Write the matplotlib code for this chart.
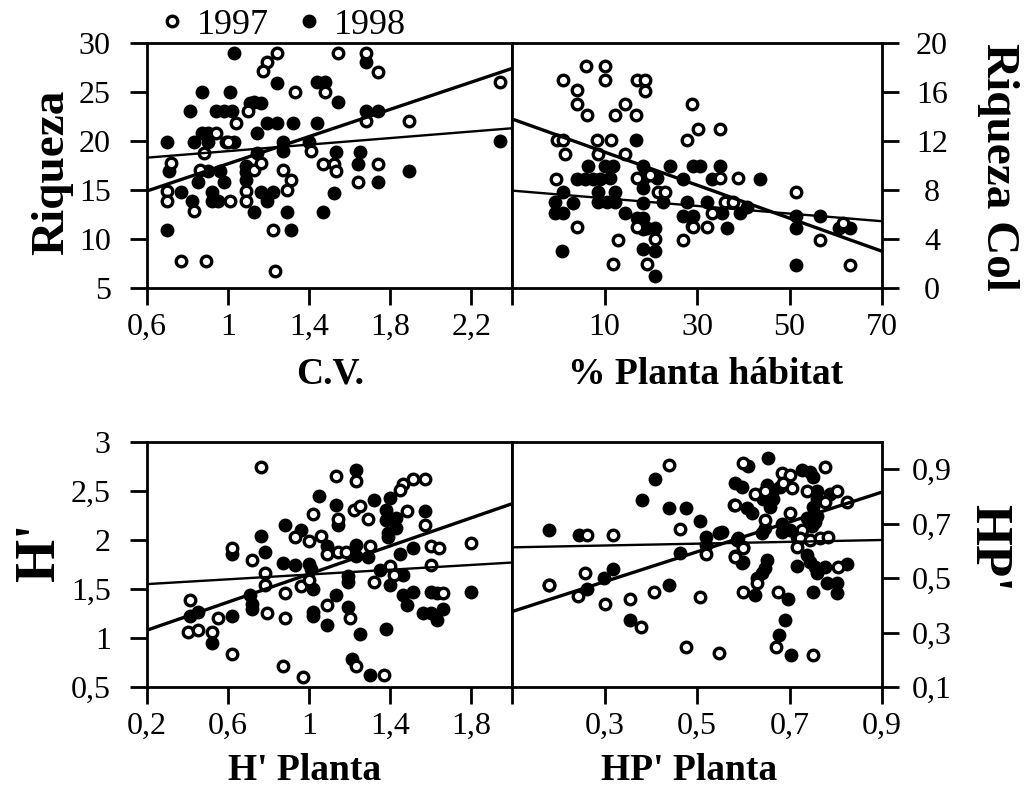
import numpy as np
import matplotlib
matplotlib.use("Agg")
import matplotlib.pyplot as plt
from matplotlib.lines import Line2D

plt.rcParams['font.family'] = ['Liberation Serif', 'DejaVu Serif']

# ---- panel A: Riqueza vs C.V. ----
cv_97 = [1.24, 1.19, 1.17, 1.54, 1.68, 1.74, 1.33, 1.48, 1.04, 1.10, 1.68, 1.89, 2.34,
         0.94, 0.88, 1.00, 1.41, 1.47, 1.52, 1.53, 1.74, 1.64, 0.72, 0.70, 0.70, 0.83,
         0.86, 1.01, 1.13, 1.16, 1.09, 1.09, 1.27, 1.31, 1.29, 1.22, 0.77, 0.89, 1.23]
riq_97 = [29.0, 28.1, 27.1, 29.0, 29.0, 27.0, 25.0, 25.0, 21.8, 23.1, 22.0, 22.0, 26.0,
          20.8, 18.8, 19.9, 19.0, 17.7, 17.7, 16.9, 17.7, 15.8, 17.8, 14.9, 13.9, 12.9,
          17.0, 13.9, 17.0, 17.8, 14.9, 13.9, 17.0, 16.0, 15.0, 10.9, 7.8, 7.8, 6.7]
cv_98 = [1.03, 1.68, 1.24, 1.44, 1.48, 1.54, 0.87, 1.01, 0.81, 0.94, 0.98, 1.02, 1.11,
         1.16, 1.13, 1.19, 1.24, 1.32, 1.44, 1.68, 1.74, 2.34, 0.70, 0.83, 0.87, 0.90,
         0.90, 0.99, 1.03, 1.14, 1.14, 1.27, 1.27, 1.40, 1.53, 1.65, 1.64, 1.74, 1.89,
         0.71, 0.77, 0.82, 0.85, 0.90, 0.96, 0.98, 0.92, 0.95, 0.92, 1.09, 1.09, 1.09,
         1.16, 1.19, 1.22, 1.13, 1.29, 1.31, 1.52, 1.47, 0.70]
riq_98 = [29.0, 28.1, 25.9, 26.0, 26.0, 24.0, 25.0, 25.0, 23.1, 23.1, 23.1, 23.1, 23.9,
          23.9, 24.0, 21.8, 21.8, 21.8, 21.8, 23.1, 23.1, 20.0, 19.9, 19.9, 20.8, 20.8,
          19.9, 19.9, 19.9, 20.8, 18.8, 19.9, 19.0, 19.9, 18.9, 18.9, 17.7, 15.8, 16.9,
          16.9, 14.8, 13.9, 15.8, 16.9, 16.9, 15.8, 14.8, 13.9, 13.9, 17.5, 16.8, 16.0,
          14.8, 13.9, 14.8, 12.8, 12.8, 10.9, 14.7, 12.8, 10.9]
cv_fit_x = [0.6, 2.4]
cv_fit_a = [14.9, 27.4]
cv_fit_b = [18.3, 21.3]

# ---- panel B: Riqueza Col vs % Planta habitat ----
ph_97 = [6.0, 10.1, 10.1, 1.1, 4.1, 4.1, 6.3, 12.3, 14.4, 16.8, 17.1, 18.8, 18.8, 29.0,
         30.3, 35.0, 27.8, -0.3, 1.1, 1.5, 8.3, 11.3, 8.6, 14.4, -0.5, 17.0, 19.8, 21.6,
         23.1, 35.0, 38.9, 36.0, 37.8, 4.0, 17.0, 20.9, 12.9, 11.8, 19.2, 27.0, 29.1,
         32.2, 33.2, 51.5, 56.5, 61.6, 63.1]
col_97 = [18.1, 18.1, 17.0, 17.0, 16.2, 15.0, 14.1, 14.1, 15.0, 14.1, 17.0, 17.0, 16.1, 15.0,
          13.0, 13.0, 12.1, 12.1, 12.1, 10.9, 12.1, 12.1, 10.9, 10.9, 8.9, 9.0, 9.2, 7.8,
          7.8, 9.0, 9.0, 7.0, 7.0, 5.0, 5.0, 4.0, 3.9, 2.0, 2.0, 3.9, 5.0,
          5.0, 6.1, 7.8, 3.9, 5.3, 1.9]
ph_98 = [16.8, 6.4, 10.1, 11.8, 4.0, 5.8, 7.5, 9.0, 11.2, 18.3, 18.3, 18.3, 18.3, 18.3,
         18.3, 24.2, 29.1, 30.6, 35.0, 27.0, 33.2, 1.0, -0.7, -0.7, 1.0, 3.2, 8.6, 8.6,
         12.3, 12.3, 10.5, 14.4, 17.0, 19.2, 20.9, 22.6, 27.8, 32.2, 27.0, 29.1, 29.0,
         35.4, 36.5, 39.3, 40.8, 0.8, 18.3, 20.9, 20.9, 43.6, 51.5, 51.5, 56.5, 60.6,
         63.1, 51.5, 21.3]
col_98 = [12.1, 10.0, 10.0, 10.0, 8.9, 8.9, 8.9, 8.9, 9.0, 10.0, 8.9, 8.2, 6.9, 5.7,
          4.8, 10.0, 10.0, 10.0, 10.0, 8.9, 8.9, 7.8, 7.0, 6.1, 6.1, 6.9, 7.8, 7.0,
          7.8, 7.0, 7.0, 6.1, 5.7, 4.9, 4.9, 7.0, 7.0, 7.0, 5.9, 5.9, 5.1,
          6.1, 4.9, 6.1, 6.6, 3.0, 3.2, 3.0, 1.0, 8.9, 5.9, 4.9, 5.9, 4.9,
          4.9, 1.9, 9.0]
ph_fit_x = [-10, 70]
ph_fit_a = [13.8, 3.0]
ph_fit_b = [7.95, 5.45]

# ---- panel C: H' vs H' Planta ----
hpl_97 = [0.76, 1.13, 1.23, 1.51, 1.57, 1.46, 1.45, 1.22, 1.25, 1.29, 1.48, 1.57, 1.02,
          1.14, 0.93, 1.00, 1.06, 0.62, 0.72, 0.78, 1.09, 1.14, 1.18, 1.30, 1.60, 1.64,
          1.80, 1.60, 1.40, 1.42, 1.32, 0.96, 1.00, 0.88, 0.78, 1.09, 1.66, 0.41, 0.40,
          0.45, 0.52, 0.55, 0.62, 0.79, 0.88, 1.20, 0.87, 0.97, 1.23, 1.37]
hsh_97 = [2.75, 2.65, 2.60, 2.62, 2.62, 2.57, 2.51, 2.31, 2.35, 2.21, 2.30, 2.15, 2.27,
          2.21, 2.03, 1.99, 2.04, 1.92, 1.80, 1.66, 1.86, 1.88, 1.88, 1.94, 1.94, 1.92,
          1.97, 1.74, 1.73, 1.64, 1.57, 1.53, 1.59, 1.46, 1.54, 1.34, 1.46, 1.39, 1.06,
          1.08, 1.06, 1.20, 0.84, 1.26, 1.20, 1.20, 0.71, 0.60, 0.71, 0.62]
hpl_98 = [1.23, 1.40, 1.05, 1.13, 1.32, 1.38, 1.38, 1.43, 1.43, 1.57, 1.39, 1.39, 1.14,
          0.88, 0.96, 0.76, 0.62, 0.78, 0.87, 0.93, 1.00, 1.01, 1.09, 1.19, 1.19, 1.23,
          1.23, 1.29, 1.45, 1.51, 1.35, 1.46, 1.40, 1.02, 0.71, 0.72, 0.72, 1.13, 1.46,
          1.48, 1.51, 1.60, 1.63, 1.66, 1.56, 1.60, 1.63, 1.80, 0.41, 0.45, 0.52, 0.62,
          1.02, 1.02, 1.09, 1.19, 1.25, 1.38, 1.21, 1.30]
hsh_98 = [2.71, 2.43, 2.45, 2.36, 2.41, 2.31, 2.20, 2.22, 2.12, 2.30, 2.07, 2.03, 2.15,
          2.15, 2.10, 2.04, 1.86, 1.88, 1.77, 1.74, 1.76, 1.70, 1.94, 1.63, 1.57, 1.95,
          1.84, 1.83, 1.86, 1.92, 1.69, 1.64, 1.54, 1.50, 1.44, 1.35, 1.30, 1.44, 1.44,
          1.34, 1.47, 1.47, 1.46, 1.30, 1.26, 1.26, 1.18, 1.47, 1.22, 1.27, 0.95, 1.22,
          1.27, 1.22, 1.13, 1.32, 1.04, 1.09, 0.79, 0.62]
hpl_fit_x = [0.2, 2.0]
hpl_fit_a = [1.08, 2.37]
hpl_fit_b = [1.55, 1.77]

# ---- panel D: HP' vs HP' Planta ----
hp_97 = [0.179, 0.263, 0.319, 0.179, 0.258, 0.243, 0.300, 0.355, 0.378, 0.407, 0.506,
         0.476, 0.548, 0.440, 0.463, 0.519, 0.599, 0.582, 0.600, 0.684, 0.700, 0.777,
         0.625, 0.647, 0.686, 0.705, 0.738, 0.777, 0.803, 0.824, 0.700, 0.647, 0.727,
         0.722, 0.716, 0.744, 0.766, 0.783, 0.600, 0.582, 0.630, 0.600, 0.675, 0.805,
         0.582, 0.671, 0.751]
hps_97 = [0.475, 0.658, 0.658, 0.475, 0.520, 0.433, 0.404, 0.422, 0.322, 0.450, 0.432,
          0.246, 0.226, 0.916, 0.679, 0.587, 0.613, 0.581, 0.923, 0.886, 0.879, 0.908,
          0.810, 0.820, 0.850, 0.830, 0.820, 0.780, 0.820, 0.780, 0.740, 0.713, 0.677,
          0.647, 0.614, 0.640, 0.647, 0.650, 0.610, 0.578, 0.482, 0.449, 0.449, 0.540,
          0.770, 0.247, 0.218]
hp_98 = [0.179, 0.245, 0.299, 0.319, 0.262, 0.355, 0.440, 0.380, 0.409, 0.440, 0.476,
         0.506, 0.519, 0.519, 0.548, 0.463, 0.586, 0.599, 0.610, 0.653, 0.727, 0.744,
         0.582, 0.597, 0.651, 0.664, 0.679, 0.658, 0.664, 0.643, 0.750, 0.760, 0.750,
         0.760, 0.760, 0.788, 0.580, 0.608, 0.619, 0.647, 0.640, 0.684, 0.684, 0.700,
         0.716, 0.749, 0.755, 0.738, 0.554, 0.589, 0.597, 0.651, 0.647, 0.640, 0.630,
         0.625, 0.697, 0.716, 0.738, 0.744, 0.755, 0.760, 0.777, 0.824, 0.750, 0.780,
         0.803, 0.803, 0.690, 0.677, 0.703]
hps_98 = [0.677, 0.658, 0.500, 0.532, 0.459, 0.346, 0.475, 0.787, 0.863, 0.756, 0.756,
          0.711, 0.652, 0.622, 0.667, 0.593, 0.640, 0.560, 0.910, 0.940, 0.897, 0.890,
          0.850, 0.835, 0.842, 0.824, 0.835, 0.760, 0.790, 0.790, 0.870, 0.820, 0.760,
          0.730, 0.790, 0.810, 0.770, 0.757, 0.740, 0.684, 0.666, 0.700, 0.670, 0.677,
          0.650, 0.690, 0.706, 0.720, 0.670, 0.647, 0.556, 0.567, 0.537, 0.518, 0.500,
          0.438, 0.423, 0.545, 0.585, 0.560, 0.540, 0.518, 0.540, 0.552, 0.449, 0.482,
          0.445, 0.483, 0.346, 0.290, 0.218]
hp_fit_x = [0.1, 0.9]
hp_fit_a = [0.377, 0.816]
hp_fit_b = [0.613, 0.640]


def comma(vals):
    return [f"{v:g}".replace('.', ',') for v in vals]


def draw(ax, x97, y97, x98, y98, fx, fa, fb):
    ax.plot(x98, y98, 'o', color='black', ms=10, mew=0, zorder=3)
    ax.plot(x97, y97, 'o', mfc='white', mec='black', ms=7.6, mew=2.4, zorder=4)
    ax.plot(fx, fa, color='black', lw=2.4, zorder=5, solid_capstyle='butt')
    ax.plot(fx, fb, color='black', lw=1.7, zorder=5, solid_capstyle='butt')
    for s in ax.spines.values():
        s.set_linewidth(2.0)


fig = plt.figure(figsize=(10.29, 7.94), dpi=100)
W, H = 1029, 794
xl, xm, xr = 147 / W, 512 / W, 882 / W
top1, bot1 = 1 - 43 / H, 1 - 288 / H
top2, bot2 = 1 - 442 / H, 1 - 687 / H

axA = fig.add_axes([xl, bot1, xm - xl, top1 - bot1])
axB = fig.add_axes([xm, bot1, xr - xm, top1 - bot1])
axC = fig.add_axes([xl, bot2, xm - xl, top2 - bot2])
axD = fig.add_axes([xm, bot2, xr - xm, top2 - bot2])

draw(axA, cv_97, riq_97, cv_98, riq_98, cv_fit_x, cv_fit_a, cv_fit_b)
draw(axB, ph_97, col_97, ph_98, col_98, ph_fit_x, ph_fit_a, ph_fit_b)
draw(axC, hpl_97, hsh_97, hpl_98, hsh_98, hpl_fit_x, hpl_fit_a, hpl_fit_b)
draw(axD, hp_97, hps_97, hp_98, hps_98, hp_fit_x, hp_fit_a, hp_fit_b)

# axis limits and ticks
cv_ticks = [0.6, 1, 1.4, 1.8, 2.2]
riq_ticks = [5, 10, 15, 20, 25, 30]
ph_ticks = [10, 30, 50, 70]
col_ticks = [0, 4, 8, 12, 16, 20]
hpl_ticks = [0.2, 0.6, 1, 1.4, 1.8]
hsh_ticks = [0.5, 1, 1.5, 2, 2.5, 3]
hp_ticks = [0.3, 0.5, 0.7, 0.9]
hps_ticks = [0.1, 0.3, 0.5, 0.7, 0.9]

axA.set_xlim(0.6, 2.4); axA.set_ylim(5, 30)
axB.set_xlim(-10, 70); axB.set_ylim(0, 20)
axC.set_xlim(0.2, 2.0); axC.set_ylim(0.5, 3)
axD.set_xlim(0.1, 0.9); axD.set_ylim(0.1, 1.0)

tfs = 23
for ax, xt, yt in [(axA, cv_ticks, riq_ticks), (axC, hpl_ticks, hsh_ticks)]:
    ax.set_xticks(xt); ax.set_xticklabels(comma(xt), fontsize=tfs)
    ax.set_yticks(yt); ax.set_yticklabels(comma(yt), fontsize=tfs)
    ax.set_xticks([ax.get_xlim()[1]], minor=True)
    ax.tick_params(axis='both', which='both', direction='out', length=12, width=2)
    ax.tick_params(axis='x', which='major', pad=6)
    ax.tick_params(axis='y', pad=14)

for ax, xt, yt in [(axB, ph_ticks, col_ticks), (axD, hp_ticks, hps_ticks)]:
    ax.yaxis.tick_right()
    ax.set_xticks(xt); ax.set_xticklabels(comma(xt), fontsize=tfs)
    ax.set_yticks(yt); ax.set_yticklabels(comma(yt), fontsize=tfs)
    ax.tick_params(axis='both', direction='out', length=12, width=2)
    ax.tick_params(axis='x', pad=6)
    ax.tick_params(axis='y', pad=24)
    for lab in ax.get_yticklabels():
        lab.set_ha('center')

# axis titles
bold = dict(fontweight='bold', ha='center', va='center')
fig.text(52 / W, 1 - 172 / H, 'Riqueza', rotation=90, fontsize=34, **bold)
fig.text(998 / W, 1 - 167 / H, 'Riqueza Col', rotation=270, fontsize=34, **bold)
fig.text(40 / W, 1 - 552 / H, "H'", rotation=90, fontsize=40, **bold)
fig.text(988 / W, 1 - 548 / H, "HP'", rotation=270, fontsize=38, **bold)
fig.text(330 / W, 1 - 374 / H, 'C.V.', fontsize=27, **bold)
fig.text(706 / W, 1 - 374 / H, '% Planta hábitat', fontsize=27, **bold)
fig.text(305 / W, 1 - 770 / H, "H' Planta", fontsize=27, **bold)
fig.text(689 / W, 1 - 770 / H, "HP' Planta", fontsize=27, **bold)

# legend
handles = [Line2D([], [], ls='none', marker='o', mfc='white', mec='black', ms=7.6, mew=2.4),
           Line2D([], [], ls='none', marker='o', color='black', ms=10, mew=0)]
fig.legend(handles, ['1997', '1998'], loc='center left',
           bbox_to_anchor=(161 / W, 1 - 25 / H), ncol=2, frameon=False,
           fontsize=26, handlelength=0.6, handletextpad=0.4, columnspacing=0.8,
           borderpad=0, borderaxespad=0)

fig.savefig('out.png', dpi=100)
